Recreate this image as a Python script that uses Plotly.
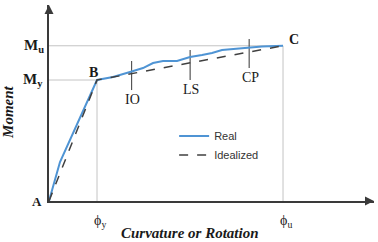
import plotly.graph_objects as go

# data (curvature normalised to phi_y = 1, moment normalised to M_y = 1)
phi_y = 1.0
phi_u = 4.875
M_y = 1.0
M_u = 1.283

real_x = [0, 0.229, 1.0, 1.333, 1.6875, 1.958, 2.167, 2.375, 2.667, 2.9375, 3.1875, 3.396, 3.604, 4.021, 4.4375, 4.875]
real_y = [0, 0.322, 1.0, 1.025, 1.066, 1.099, 1.140, 1.157, 1.157, 1.190, 1.207, 1.223, 1.248, 1.264, 1.277, 1.283]

ideal_x = [0, phi_y, phi_u]
ideal_y = [0, M_y, M_u]

perf_labels = ["IO", "LS", "CP"]
perf_x = [1.72, 2.94, 4.17]
perf_ylo = [0.917, 1.0, 1.10]
perf_yhi = [1.157, 1.248, 1.339]

x_max = 6.77
y_max = 1.62

serif = "Liberation Serif, Times New Roman, serif"
sans = "Liberation Sans, Arial, sans-serif"
grid_c = "#c4c4c4"
axis_c = "#3a3a3a"

fig = go.Figure()

# reference lines
fig.add_trace(go.Scatter(x=[0, phi_u, phi_u], y=[M_u, M_u, 0], mode="lines",
                         line=dict(color=grid_c, width=1), showlegend=False, hoverinfo="skip"))
fig.add_trace(go.Scatter(x=[0, phi_y, phi_y], y=[M_y, M_y, 0], mode="lines",
                         line=dict(color=grid_c, width=1), showlegend=False, hoverinfo="skip"))

# performance ticks
for lx, lo, hi in zip(perf_x, perf_ylo, perf_yhi):
    fig.add_trace(go.Scatter(x=[lx, lx], y=[lo, hi], mode="lines",
                             line=dict(color="#555555", width=1.2), showlegend=False, hoverinfo="skip"))

fig.add_trace(go.Scatter(x=real_x, y=real_y, mode="lines", name="Real",
                         line=dict(color="#4f94d4", width=2)))
fig.add_trace(go.Scatter(x=ideal_x, y=ideal_y, mode="lines", name="Idealized",
                         line=dict(color="#404040", width=1.5, dash="dash")))

# axis arrowheads
fig.add_trace(go.Scatter(x=[x_max], y=[0], mode="markers", cliponaxis=False, showlegend=False,
                         hoverinfo="skip",
                         marker=dict(symbol="arrow-right", size=9, color=axis_c)))
fig.add_trace(go.Scatter(x=[0], y=[y_max], mode="markers", cliponaxis=False, showlegend=False,
                         hoverinfo="skip",
                         marker=dict(symbol="arrow-up", size=9, color=axis_c)))

ann = []

def t(x, y, s, size=14, bold=True, font=serif, **kw):
    txt = f"<b>{s}</b>" if bold else s
    d = dict(x=x / x_max, y=y / y_max, xref="paper", yref="paper", text=txt, showarrow=False,
             xanchor="center", yanchor="middle",
             font=dict(family=font, size=size, color="#1a1a1a"))
    d.update(kw)
    ann.append(d)

t(-0.31, M_u, "M<sub>u</sub>", size=15)
t(-0.33, M_y, "M<sub>y</sub>", size=15)
t(-0.25, 0, "A", size=13)
t(phi_y - 0.08, M_y + 0.06, "B", size=14)
t(phi_u + 0.23, M_u + 0.05, "C", size=14)
for lab, lx, lo in zip(perf_labels, perf_x, perf_ylo):
    t(lx + 0.02, lo - 0.08, lab, size=14, bold=False)
t(phi_y + 0.06, -0.17, "ϕ<sub>y</sub>", size=14, bold=False)
t(phi_u + 0.06, -0.17, "ϕ<sub>u</sub>", size=14, bold=False)
t(2.94, -0.265, "<i>Curvature or Rotation</i>", size=15)
t(-0.854, 0.736, "<i>Moment</i>", size=15, textangle=-90)

axis_style = dict(showline=True, linecolor=axis_c, linewidth=2, showgrid=False,
                  zeroline=False, showticklabels=False, ticks="")

fig.update_layout(
    width=378, height=242,
    margin=dict(l=49, r=4, t=5, b=41, autoexpand=False),
    paper_bgcolor="white", plot_bgcolor="white",
    xaxis=dict(range=[0, x_max], **axis_style),
    yaxis=dict(range=[0, y_max], **axis_style),
    annotations=ann,
    showlegend=True,
    legend=dict(x=0.385, y=0.406, xanchor="left", yanchor="top",
                bgcolor="rgba(0,0,0,0)", font=dict(family=sans, size=11, color="#333333"),
                tracegroupgap=0, itemwidth=30),
)

fig.write_html("out.html", post_script="document.body.style.margin='0';",
               config={"displayModeBar": False})
